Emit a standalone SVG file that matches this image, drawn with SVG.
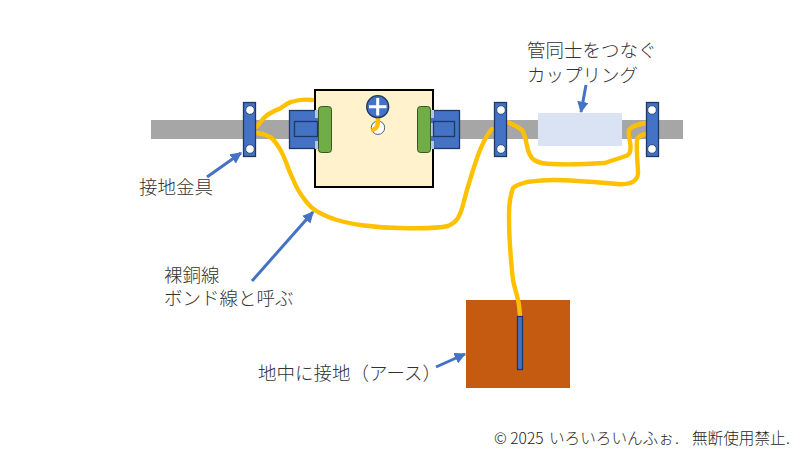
<svg xmlns="http://www.w3.org/2000/svg" width="800" height="450" viewBox="0 0 800 450">
<defs>
<marker id="ah" viewBox="0 0 10 10" refX="9" refY="5" markerWidth="3.800" markerHeight="3.800" orient="auto"><path d="M0 0L10 5L0 10Z" fill="#4472c4"/></marker>
</defs>
<style>
text{font-family:"Noto Sans CJK JP","Liberation Sans",sans-serif;font-size:18.500px;fill:#333;font-weight:300}
.f{font-size:15.600px;fill:#262626}
.b{fill:#4472c4;stroke:#1f3864;stroke-width:1.3}
.g{fill:#70ad47;stroke:#385723;stroke-width:1}
.h{fill:#fff;stroke:#1f3864;stroke-width:.8}
.w{fill:none;stroke:#ffc000;stroke-width:4.400;stroke-linecap:round;stroke-linejoin:round}
.a{fill:none;stroke:#4472c4;stroke-width:3;marker-end:url(#ah)}
</style>
<rect id="pipe" x="151" y="120" width="532" height="19" fill="#a6a6a6"/>
<g id="box"><rect x="315" y="90" width="118" height="97" fill="#fff2cc" stroke="#000" stroke-width="2"/></g>
<g id="coupling"><rect x="538" y="113" width="84" height="33" fill="#dae3f3"/></g>
<g id="ground"><rect x="466" y="300" width="104" height="88" fill="#c55a11"/></g>
<g id="left-joint">
<rect class="b" x="289.500" y="110.500" width="27" height="38"/>
<rect x="315" y="110" width="3.500" height="39" fill="#b4c7e7"/><rect x="315" y="118" width="3.500" height="5" fill="#4472c4"/><rect x="315" y="136" width="3.500" height="5" fill="#4472c4"/>
<rect class="b" x="294.500" y="121.500" width="23" height="15"/>
<rect class="g" x="318.500" y="106.500" width="13" height="46" rx="3"/>
</g>
<g id="right-joint">
<rect class="b" x="433.500" y="110.500" width="26" height="38"/>
<rect x="431" y="110" width="3" height="39" fill="#b4c7e7"/><rect x="431" y="118" width="3" height="5" fill="#4472c4"/><rect x="431" y="136" width="3" height="5" fill="#4472c4"/>
<rect class="b" x="433.500" y="121.500" width="21" height="15"/>
<rect class="g" x="417.500" y="106.500" width="13" height="46" rx="3"/>
</g>
<g id="screw">
<circle cx="378" cy="127.700" r="6.700" fill="#fff" stroke="#1f3864" stroke-width=".8"/>
<path class="w" d="M378 117C378 123 378 126 376 128L373 130"/>
<circle cx="377.700" cy="106.700" r="11" class="b"/>
<path d="M377.700 98V115.500M369 106.700H386.500" stroke="#fff" stroke-width="3" fill="none"/>
</g>
<g id="connectors">
<path class="w" d="M256 127C260 124 262 119 266 116C271 112 277 110 281 108C285 105 287 103 291 102C297 100 304 99 312 100"/>
<path class="w" d="M256 133C262 133 266 135 270 137C275 140 278 146 281 151C286 160 288 169 292 177C296 187 300 194 305 200C309 206 314 210 320 213C325 216 331 218 337 220C350 224 375 228 400 228C420 228.500 440 228 448 226C453 224 456 221 458 218C461 213 462 209 463 205C465 197 467 189 470 180C473 170 476 160 480 150C483 143 487 134 492 129"/>
<path class="w" d="M507 122C512 124 518 127 522 130C525 135 526 140 527 146C528 151 530 157 534 160C539 163 545 164 552 164C570 165 590 164 605 163C613 160 621 158 628 155C631 152 631 147 630 142C629 137 628 134 629 130C632 126 638 124 647 123"/>
<path class="w" d="M645 134C641 135 638 137 637 140C636 150 638 165 638 174C637 180 634 182 630 183C625 184.500 621 184.500 617 184C595 182 575 180 553 180C543 180 535 181 527 182C520 184 516 185 513 188C510 196 509 205 509 215C509 240 511 262 513 280C515 290 518 298 519 305L520 316"/>
<path class="a" d="M207 177L241 153"/>
<path class="a" d="M252 281L313 212"/>
<path class="a" d="M436 367L465 354"/>
<path class="a" d="M586 85L581 112"/>
</g>
<g id="bracket-1"><rect class="b" x="243.500" y="102.500" width="12" height="54"/><circle class="h" cx="250" cy="110" r="4.300"/><circle class="h" cx="250" cy="149" r="4.300"/></g>
<g id="bracket-2"><rect class="b" x="494.500" y="102.500" width="12" height="54"/><circle class="h" cx="501" cy="110" r="4.300"/><circle class="h" cx="501" cy="149" r="4.300"/></g>
<g id="bracket-3"><rect class="b" x="646.500" y="102.500" width="12" height="54"/><circle class="h" cx="652" cy="110" r="4.300"/><circle class="h" cx="652" cy="149" r="4.300"/></g>
<g id="rod"><rect class="b" x="517.500" y="316.500" width="5" height="53"/></g>
<text x="139" y="194">接地金具</text>
<text x="164" y="282">裸銅線</text>
<text x="164" y="305">ボンド線と呼ぶ</text>
<text x="258" y="380">地中に接地（アース）</text>
<text x="527" y="57">管同士をつなぐ</text>
<text x="527" y="82">カップリング</text>
<text class="f" y="444"><tspan x="494">© 2025</tspan><tspan x="549">いろいろいんふぉ</tspan><tspan x="675">.</tspan><tspan x="692">無断使用禁止</tspan><tspan x="786">.</tspan></text>
</svg>
